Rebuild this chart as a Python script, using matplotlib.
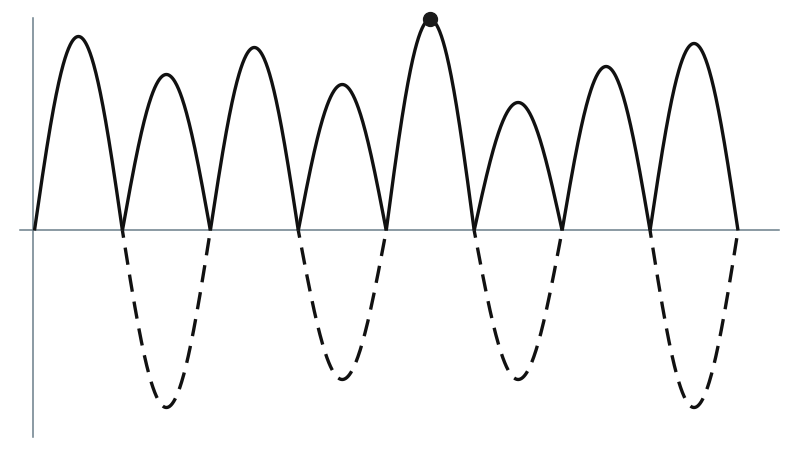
import numpy as np
import matplotlib
matplotlib.use("Agg")
import matplotlib.pyplot as plt

# arch heights above the axis (one per half-period) and the dashed dips below
arch_peaks = [1.94, 1.56, 1.83, 1.46, 2.11, 1.28, 1.64, 1.87]
dip_slots = [1, 3, 5, 7]          # which half-periods also get a dashed dip
dip_depths = [1.77, 1.49, 1.49, 1.77]
dot_slot = 4                      # arch that carries the marker

fig = plt.figure(figsize=(8, 4.51), dpi=100)
ax = fig.add_axes([0, 0, 1, 1])
ax.set_xlim(-0.392, 8.705)
ax.set_ylim(-2.205, 2.305)
ax.axis("off")

axis_col = "#6b7f8a"
ax.plot([-0.017, -0.017], [-2.065, 2.125], color=axis_col, lw=1.1, zorder=1)
ax.plot([-0.165, 8.466], [0, 0], color=axis_col, lw=1.1, zorder=1)

t = np.linspace(0, 1, 200)
for i, h in enumerate(arch_peaks):
    ax.plot(i + t, h * np.sin(np.pi * t), color="#111111", lw=2.4,
            solid_capstyle="butt", zorder=3)

for i, d in zip(dip_slots, dip_depths):
    ax.plot(i + t, -d * np.sin(np.pi * t), color="#111111", lw=2.4,
            linestyle=(3.0, (5.2, 3.0)), dash_capstyle="butt", zorder=3)

ax.plot(dot_slot + 0.5, arch_peaks[dot_slot], "o", color="#1a1a1a",
        markersize=10, zorder=4)

fig.savefig("out.png", dpi=100)
